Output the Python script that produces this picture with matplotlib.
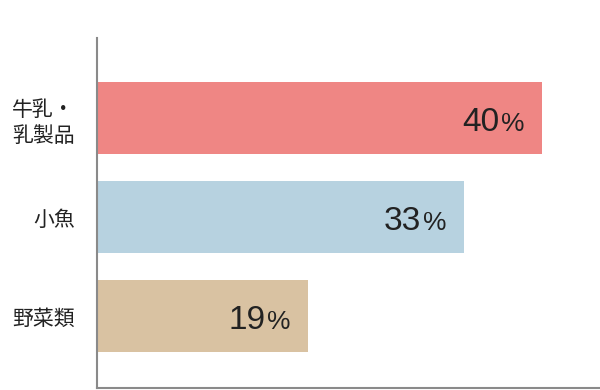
import matplotlib
matplotlib.use("Agg")
import matplotlib.pyplot as plt

plt.rcParams['font.family'] = ['Noto Sans CJK JP', 'DejaVu Sans']

categories = ["牛乳・\n乳製品", "小魚", "野菜類"]
values = [40, 33, 19]
colors = ["#EF8684", "#B7D2E0", "#D9C2A2"]

fig = plt.figure(figsize=(6, 3.9), dpi=100)
ax = fig.add_axes([97/600, 2/390, 503/600, 350/390])

ypos = list(range(len(categories)))
ax.barh(ypos, values, height=0.73, color=colors)
ax.set_ylim(2.727, -0.813)
ax.set_xlim(0, 45.2)

num_font = ['Liberation Sans', 'DejaVu Sans']
for y, v in zip(ypos, values):
    ax.annotate("%", xy=(v, y), xytext=(-13, -9), textcoords="offset points",
                ha="right", va="baseline", fontsize=19, color="#222222",
                family=num_font)
    ax.annotate(f"{v}", xy=(v, y), xytext=(-31, -9), textcoords="offset points",
                ha="right", va="baseline", fontsize=24, color="#222222",
                family=num_font)

ax.set_yticks(ypos)
ax.set_yticklabels(categories, fontsize=15, color="#222222", linespacing=1.25)
ax.tick_params(axis='y', length=0, pad=16)
ax.set_xticks([])

for s in ['top', 'right']:
    ax.spines[s].set_visible(False)
for s in ['left', 'bottom']:
    ax.spines[s].set_color("#8a8a8a")
    ax.spines[s].set_linewidth(1.5)

fig.savefig("out.png", dpi=100)
